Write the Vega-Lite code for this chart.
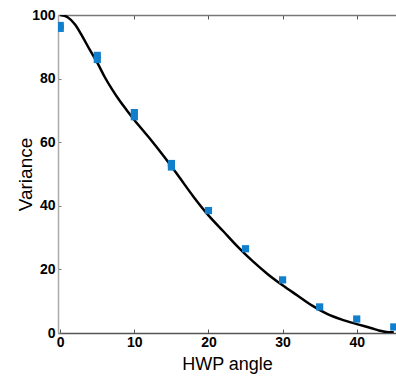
{
  "$schema": "https://vega.github.io/schema/vega-lite/v6.json",
  "autosize": "none",
  "width": 338,
  "height": 318,
  "padding": {"left": 58, "top": 15, "right": 0, "bottom": 45},
  "background": "white",
  "config": {
    "view": {"stroke": null},
    "axis": {"grid": false, "labelFont": "Liberation Sans", "titleFont": "Liberation Sans", "labelFontWeight": "bold", "labelFontSize": 14, "labelColor": "black", "titleFontSize": 18, "titleFontWeight": "normal", "titleColor": "black"}
  },
  "datasets": {
    "pts": [
      {"angle": 0, "variance": 96.7}, {"angle": 0, "variance": 95.8},
      {"angle": 5, "variance": 87.3}, {"angle": 5, "variance": 86.0},
      {"angle": 10, "variance": 69.3}, {"angle": 10, "variance": 68.0},
      {"angle": 15, "variance": 53.3}, {"angle": 15, "variance": 52.2},
      {"angle": 20, "variance": 38.5}, {"angle": 25, "variance": 26.5},
      {"angle": 30, "variance": 16.7}, {"angle": 35, "variance": 8.2},
      {"angle": 40, "variance": 4.4}, {"angle": 45, "variance": 1.9}
    ],
    "fit": [
      {"angle": 0, "variance": 100}, {"angle": 1, "variance": 99.3}, {"angle": 2, "variance": 97.0},
      {"angle": 3, "variance": 93.2}, {"angle": 4, "variance": 89.0}, {"angle": 5, "variance": 85.0},
      {"angle": 6, "variance": 80.5}, {"angle": 7, "variance": 76.6}, {"angle": 8, "variance": 73.1},
      {"angle": 9, "variance": 70.0}, {"angle": 10, "variance": 67.0}, {"angle": 12, "variance": 61.4},
      {"angle": 14, "variance": 55.5}, {"angle": 16, "variance": 49.2}, {"angle": 18, "variance": 42.8},
      {"angle": 20, "variance": 37.0}, {"angle": 22, "variance": 32.0}, {"angle": 24, "variance": 27.0},
      {"angle": 26, "variance": 22.5}, {"angle": 28, "variance": 18.5}, {"angle": 30, "variance": 15.0},
      {"angle": 32, "variance": 11.8}, {"angle": 34, "variance": 8.6}, {"angle": 36, "variance": 6.0},
      {"angle": 38, "variance": 4.2}, {"angle": 40, "variance": 2.8}, {"angle": 42, "variance": 1.5},
      {"angle": 43, "variance": 0.8}, {"angle": 44, "variance": 0.3}, {"angle": 45, "variance": 0.2}
    ]
  },
  "layer": [
    {
      "data": {"name": "fit"},
      "mark": {"type": "line", "color": "black", "strokeWidth": 2.5, "interpolate": "monotone", "clip": true},
      "encoding": {
        "x": {"field": "angle", "type": "quantitative", "scale": {"domain": [-0.3, 45.3], "nice": false},
          "axis": {"title": "HWP angle", "values": [0, 10, 20, 30, 40], "tickSize": -4, "tickColor": "#555", "domainColor": "#555", "domainWidth": 1.5, "labelPadding": 6, "titlePadding": 6}},
        "y": {"field": "variance", "type": "quantitative", "scale": {"domain": [0, 100], "nice": false},
          "axis": {"title": "Variance", "titleFontSize": 19, "values": [0, 20, 40, 60, 80, 100], "tickSize": -3, "tickColor": "#777", "domainColor": "#aaa", "domainWidth": 1.5, "labelPadding": 6, "titlePadding": -4}}
      }
    },
    {
      "data": {"name": "pts"},
      "mark": {"type": "square", "color": "#127fcc", "opacity": 1, "size": 52, "clip": true},
      "encoding": {
        "x": {"field": "angle", "type": "quantitative", "scale": {"domain": [-0.3, 45.3], "nice": false},
          "axis": {"orient": "top", "title": null, "labels": false, "values": [10, 20, 30, 40], "tickSize": -4, "tickColor": "#555", "domainColor": "#777", "domainWidth": 1.5}},
        "y": {"field": "variance", "type": "quantitative"}
      }
    }
  ],
  "resolve": {"axis": {"x": "independent"}}
}
